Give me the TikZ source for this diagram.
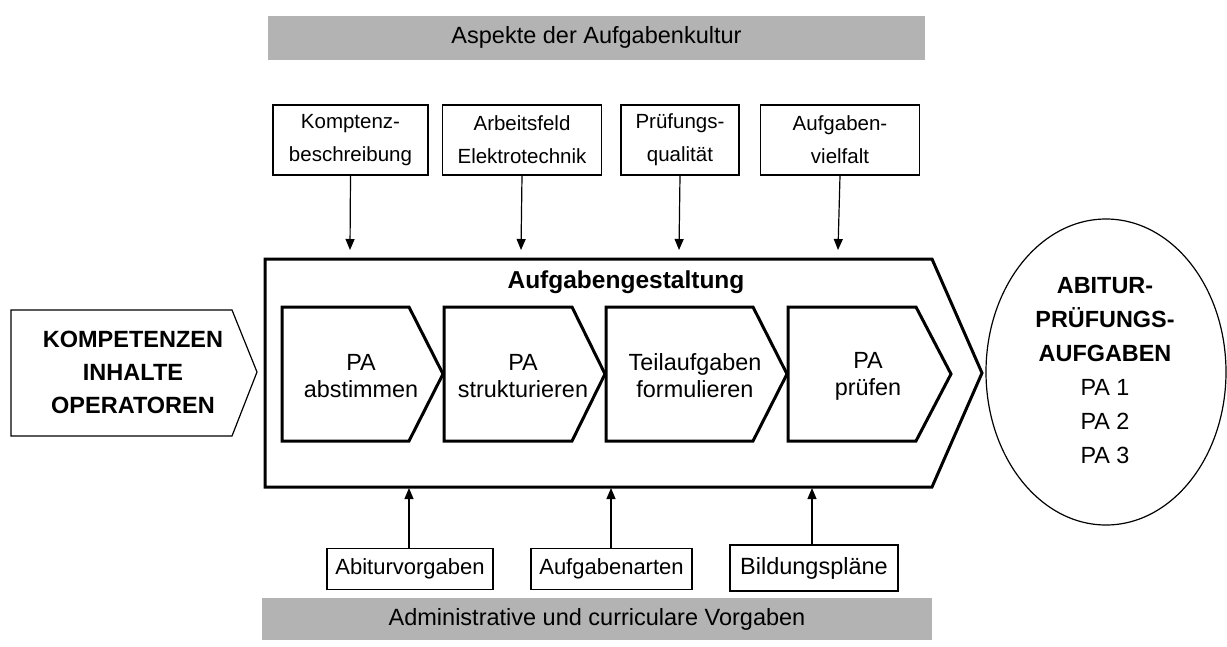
\documentclass[tikz,border=0pt]{standalone}
\usepackage{fontspec}
\setmainfont{Liberation Sans}
\usetikzlibrary{arrows.meta,shapes.geometric}
\definecolor{bargray}{RGB}{179,179,179}
\tikzset{
  bar/.style={fill=bargray,draw=none,minimum height=44pt,inner sep=0pt,font=\fontsize{23.5}{27}\selectfont},
  topbox/.style={draw,line width=1.3pt,minimum height=70pt,inner sep=0pt,align=center,font=\fontsize{20.5}{33}\selectfont},
  botbox/.style={draw,line width=1.3pt,minimum height=41pt,inner sep=0pt,align=center,font=\fontsize{22}{26}\selectfont},
  frame/.style={line width=3pt,line join=miter},
  stage/.style={line width=3pt,line join=miter},
  stagetext/.style={align=center,font=\fontsize{23.4}{27}\selectfont},
  feed/.style={line width=1.2pt,-{Triangle[length=11pt,width=9pt]}},
}
\begin{document}
\begin{tikzpicture}[x=1pt,y=-1pt]
\useasboundingbox (0,0) rectangle (1227,646);
% gray bars
\node[bar,minimum width=657pt] (aspekte) at (596.5,37.5) {Aspekte der Aufgabenkultur};
\node[bar,minimum width=670pt,minimum height=42pt] (admin) at (597,619) {Administrative und curriculare Vorgaben};
% top boxes
\node[topbox,minimum width=155pt] (kb) at (350.5,140) {Komptenz-\\beschreibung};
\node[topbox,minimum width=159pt] (ae) at (522,140) {Arbeitsfeld\\Elektrotechnik};
\node[topbox,minimum width=118pt] (pq) at (680,140) {Prüfungs-\\qualität};
\node[topbox,minimum width=159pt] (av) at (840,140) {Aufgaben-\\vielfalt};
% main frame
\draw[frame] (265,259) -- (932,259) -- (982,373) -- (932,487) -- (265,487) -- cycle;
\node[font=\bfseries\fontsize{24.5}{28}\selectfont] (ag) at (626,282) {Aufgabengestaltung};
% stages
\draw[stage] (282,307) -- (409,307) -- (443,374) -- (409,441) -- (282,441) -- cycle;
\draw[stage] (444,307) -- (572,307) -- (605,374) -- (572,441) -- (444,441) -- cycle;
\draw[stage] (606,307) -- (753,307) -- (787,374) -- (753,441) -- (606,441) -- cycle;
\draw[stage] (788,307) -- (916,307) -- (951,374) -- (916,441) -- (788,441) -- cycle;
\node[stagetext] (s1) at (361,376) {PA\\abstimmen};
\node[stagetext] (s2) at (523,376) {PA\\strukturieren};
\node[stagetext] (s3) at (695,376) {Teilaufgaben\\formulieren};
\node[stagetext] (s4) at (868,376) {PA\\prüfen};
% left input
\draw[line width=1.2pt,line join=miter] (11,310) -- (232,310) -- (257,372) -- (232,436) -- (11,436) -- cycle;
\node[align=center,font=\bfseries\fontsize{23.5}{33}\selectfont] (kio) at (133,372) {KOMPETENZEN\\INHALTE\\OPERATOREN};
% output ellipse
\draw[line width=1.2pt] (1106,372) ellipse [x radius=120, y radius=153];
\node[align=center,font=\fontsize{23.4}{34}\selectfont] (out) at (1105,371) {\textbf{ABITUR-}\\\textbf{PRÜFUNGS-}\\\textbf{AUFGABEN}\\PA 1\\PA 2\\PA 3};
% bottom boxes
\node[botbox,minimum width=166pt] (abv) at (410,569) {Abiturvorgaben};
\node[botbox,minimum width=161pt] (aa) at (611.5,569) {Aufgabenarten};
\node[botbox,minimum width=168pt,minimum height=46pt,font=\fontsize{23.5}{27}\selectfont] (bp) at (814,568) {Bildungspläne};
% arrow ends
\coordinate (t1) at (350,250);
\coordinate (t2) at (521,250);
\coordinate (t3) at (679,250);
\coordinate (t4) at (838,250);
\coordinate (b1) at (409,488);
\coordinate (b2) at (611,488);
\coordinate (b3) at (812,488);
\draw[feed] (kb.south) -- (t1);
\draw[feed] (ae.south) -- (t2);
\draw[feed] (pq.south) -- (t3);
\draw[feed] (av.south) -- (t4);
\draw[feed] (abv.north -| b1) -- (b1);
\draw[feed] (aa.north -| b2) -- (b2);
\draw[feed] (bp.north -| b3) -- (b3);
\end{tikzpicture}
\end{document}
